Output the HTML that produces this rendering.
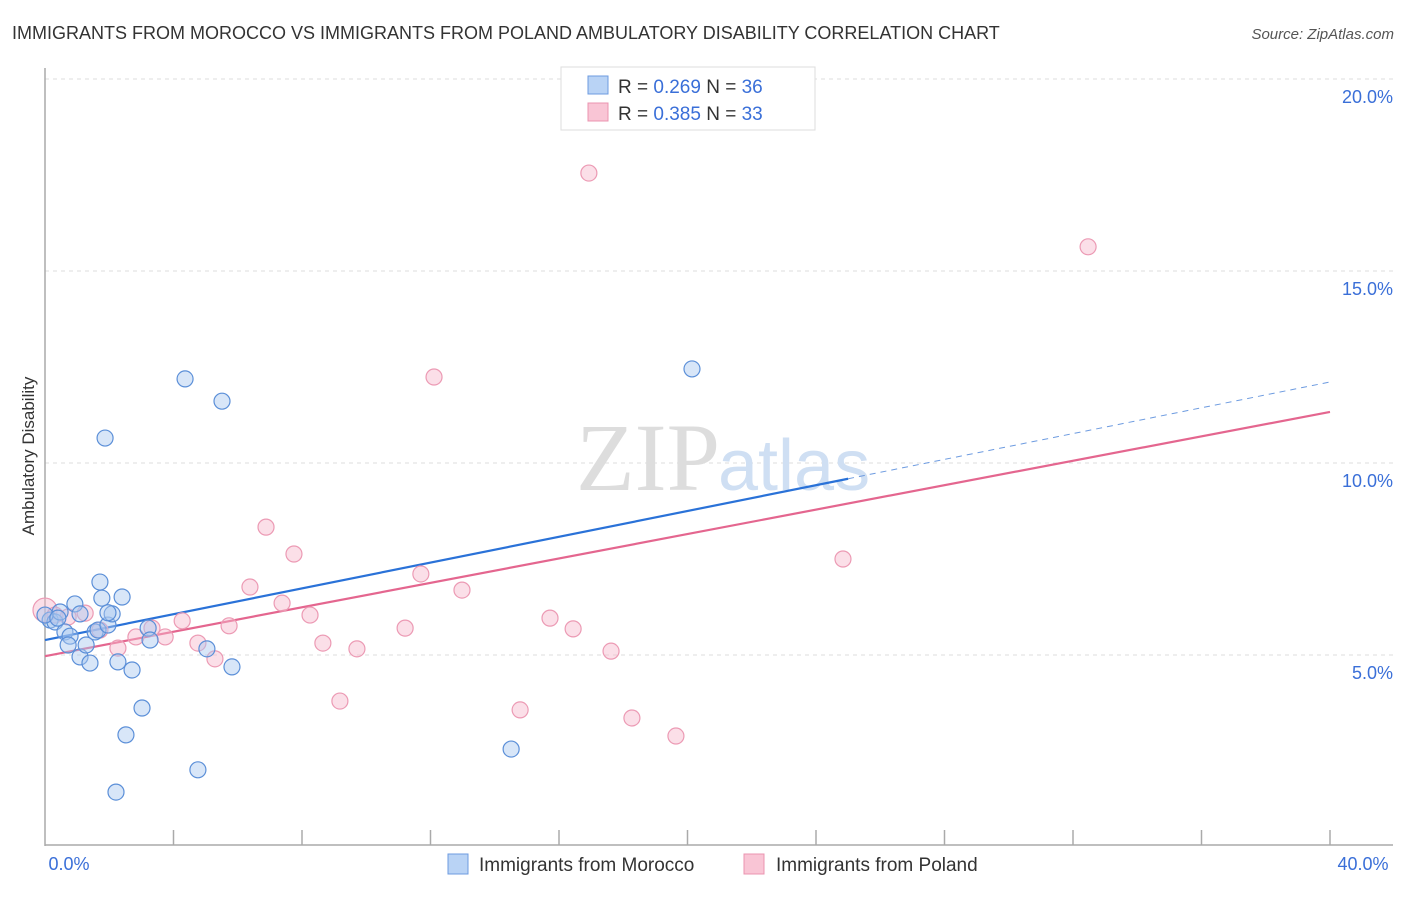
<!DOCTYPE html>
<html><head><meta charset="utf-8"><style>
body{margin:0;background:#fff;font-family:"Liberation Sans",sans-serif}
</style></head><body>
<svg width="1406" height="892" xmlns="http://www.w3.org/2000/svg" font-family="Liberation Sans, sans-serif">
<text x="12" y="39" font-size="18" fill="#333">IMMIGRANTS FROM MOROCCO VS IMMIGRANTS FROM POLAND AMBULATORY DISABILITY CORRELATION CHART</text>
<text x="1394" y="39" font-size="15" fill="#555" text-anchor="end" font-style="italic">Source: ZipAtlas.com</text>
<g id="grid"></g>
<text x="720" y="490" font-size="96" fill="#ddd" text-anchor="end" font-family="Liberation Serif, serif">ZIP</text>
<text x="718" y="490" font-size="72" fill="#cfdff3">atlas</text>
<line x1="45" y1="68" x2="45" y2="846" stroke="#aaa" stroke-width="1.5"/>
<line x1="45" y1="845" x2="1393" y2="845" stroke="#aaa" stroke-width="1.5"/>
<g id="ticks"></g>
<g id="lines"></g>
<g id="pts"></g>
<text x="69" y="870" font-size="18" fill="#3a6fd8" text-anchor="middle">0.0%</text>
<text x="1363" y="870" font-size="18" fill="#3a6fd8" text-anchor="middle">40.0%</text>
<text transform="translate(34,456) rotate(-90)" font-size="17" fill="#333" text-anchor="middle">Ambulatory Disability</text>
<g>
<rect x="561" y="67" width="254" height="63" fill="#fff" stroke="#ddd"/>
<rect x="588" y="76" width="20" height="18" fill="#b9d3f5" stroke="#6d9be0"/>
<rect x="588" y="103" width="20" height="18" fill="#f9c5d5" stroke="#eb94b0"/>
<text x="618" y="93" font-size="19" fill="#333">R = <tspan fill="#3a6fd8">0.269</tspan>   N = <tspan fill="#3a6fd8">36</tspan></text>
<text x="618" y="120" font-size="19" fill="#333">R = <tspan fill="#3a6fd8">0.385</tspan>   N = <tspan fill="#3a6fd8">33</tspan></text>
</g>
<g><rect x="448" y="854" width="20" height="20" fill="#b9d3f5" stroke="#6d9be0"/><text x="479" y="871" font-size="19" fill="#333">Immigrants from Morocco</text></g>
<g><rect x="744" y="854" width="20" height="20" fill="#f9c5d5" stroke="#eb94b0"/><text x="776" y="871" font-size="19" fill="#333">Immigrants from Poland</text></g>
</svg>
<script>
const yTicks=[5,10,15,20];
const yTickLabels=["5.0%","10.0%","15.0%","20.0%"];
const moroccoX=[0.16,0.31,0.47,0.62,0.78,0.72,0.93,1.09,1.09,1.28,1.40,1.56,1.65,1.71,1.77,1.87,1.96,2.09,2.27,2.40,2.52,2.71,2.21,3.02,3.21,3.27,4.36,4.76,5.04,5.51,5.82,14.51,20.14,0,0.40,1.96];
const moroccoY=[5.91,5.86,6.12,5.60,5.49,5.26,6.33,6.07,4.95,5.26,4.79,5.60,5.65,6.90,6.48,10.65,5.78,6.07,4.82,6.51,2.92,4.61,1.43,3.62,5.70,5.39,12.19,2.01,5.16,11.61,4.69,2.55,12.45,6.04,5.96,6.10];
const polandX=[0,0.31,0.72,1.25,1.71,2.27,2.83,3.33,3.74,4.27,4.76,5.29,5.73,6.38,6.88,7.38,7.75,8.25,8.65,9.18,9.71,11.21,11.70,12.11,12.98,14.79,15.72,16.44,16.93,17.62,18.27,19.64,24.84,32.47];
const polandY=[6.17,6.04,5.99,6.09,5.65,5.18,5.47,5.70,5.47,5.89,5.31,4.90,5.76,6.77,8.33,6.35,7.63,6.04,5.31,3.80,5.16,5.70,7.11,12.24,6.69,3.57,5.96,5.68,17.55,5.10,3.36,2.89,7.50,15.63];
const moroccoTrend=[5.39,12.11];
const moroccoSolidEnd=25.0;
const polandTrend=[4.97,11.33];
const NS="http://www.w3.org/2000/svg";
const xs=v=>45+v/40*1285;
const ys=v=>847-v/5*192;
function mk(tag,attrs,parent){const e=document.createElementNS(NS,tag);for(const k in attrs)e.setAttribute(k,attrs[k]);document.getElementById(parent).appendChild(e);return e;}
yTicks.forEach((t,i)=>{
 const l=mk('line',{x1:45,x2:1393,y1:ys(t),y2:ys(t),stroke:'#ddd','stroke-dasharray':'4,4'},'grid');
 
 
 const tx=mk('text',{x:1393,y:ys(t)+24,'font-size':18,fill:'#3a6fd8','text-anchor':'end'},'grid');
 tx.textContent=yTickLabels[i];
 
 
});
for(let i=1;i<=10;i++){
 const l=mk('line',{x1:xs(i*4),x2:xs(i*4),y1:830,y2:845,stroke:'#aaa','stroke-width':1.5},'ticks');
 
 
}
const trend=(a,x)=>a[0]+(a[1]-a[0])*x/40;
let l1=mk('line',{x1:xs(0),y1:ys(trend(moroccoTrend,0)),x2:xs(moroccoSolidEnd),y2:ys(trend(moroccoTrend,moroccoSolidEnd)),stroke:'#2a72d8','stroke-width':2.2},'lines');


let l2=mk('line',{x1:xs(moroccoSolidEnd),y1:ys(trend(moroccoTrend,moroccoSolidEnd)),x2:xs(40),y2:ys(trend(moroccoTrend,40)),stroke:'#6d9be0','stroke-width':1,'stroke-dasharray':'6,5'},'lines');


let l3=mk('line',{x1:xs(0),y1:ys(trend(polandTrend,0)),x2:xs(40),y2:ys(trend(polandTrend,40)),stroke:'#e4668f','stroke-width':2.2},'lines');


polandX.forEach((x,i)=>{
 const c=mk('circle',{cx:xs(x),cy:ys(polandY[i]),r:i==0?12:8,fill:'rgba(246,184,203,0.45)',stroke:'#ec9ab4','stroke-width':1.2},'pts');
 
 
});
moroccoX.forEach((x,i)=>{
 const c=mk('circle',{cx:xs(x),cy:ys(moroccoY[i]),r:8,fill:'rgba(169,200,240,0.45)',stroke:'#5b8fd8','stroke-width':1.2},'pts');
 
 
});
</script>
</body></html>
